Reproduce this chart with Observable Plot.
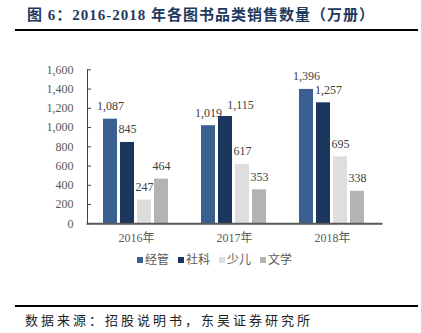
<!DOCTYPE html>
<html><head><meta charset="utf-8">
<script src="https://cdn.jsdelivr.net/npm/d3@7"></script>
<script src="https://cdn.jsdelivr.net/npm/@observablehq/plot@0.6"></script>
<style>
body{margin:0;background:#fff;width:421px;height:333px;position:relative;overflow:hidden;font-family:"Liberation Serif","Noto Sans CJK SC",serif}
#title{position:absolute;left:27px;top:6px;font-size:15px;font-weight:bold;color:#1f3a60;white-space:nowrap;line-height:18px;letter-spacing:1px}
.rule{position:absolute;left:15px;width:403px;height:0;border-top:2px solid #000}
#chart{position:absolute;left:0;top:40px}
#legend{position:absolute;top:252px;left:137px;font-size:12px;color:#595959;display:flex;line-height:16px;white-space:nowrap}
#legend .item{display:flex;align-items:center;margin-right:9px}
#legend .sw{width:6px;height:6px;margin-right:2px}
#source{position:absolute;left:25px;top:311px;font-size:13px;letter-spacing:3px;color:#222;white-space:nowrap;line-height:18px;font-family:"Noto Sans CJK SC",sans-serif}
</style></head>
<body>
<div id="title">图 6：2016-2018 年各图书品类销售数量（万册）</div>
<div class="rule" style="top:29px"></div>
<div id="chart"></div>
<div id="legend"></div>
<div class="rule" style="top:305px"></div>
<div id="source">数据来源：招股说明书，东吴证券研究所</div>
<script>
const years = ["2016年", "2017年", "2018年"];
const categories = ["经管", "社科", "少儿", "文学"];
const jingguan = [1087, 1019, 1396];
const sheke = [845, 1115, 1257];
const shaoer = [247, 617, 695];
const wenxue = [464, 353, 338];
const colors = ["#3a5f91", "#1b365d", "#dedede", "#b3b3b3"];
const yTicks = [0, 200, 400, 600, 800, 1000, 1200, 1400, 1600];

const series = [jingguan, sheke, shaoer, wenxue];
const data = [];
years.forEach((y, i) => categories.forEach((c, j) => data.push({year: y, cat: c, value: series[j][i]})));
const fmt = d3.format(",");

// labels nudged sideways in the reference to avoid overlapping neighbours
const isNudged1 = d => d.cat === "社科" && d.year === "2017年";
const isNudged2 = d => d.cat === "社科" && d.year === "2018年";
const labelOpts = {fx: "year", x: "cat", y: "value", text: d => fmt(d.value), dy: -13, fill: "#404040"};

const chart = Plot.plot({
  width: 421, height: 210,
  marginTop: 29.3, marginBottom: 26.7, marginLeft: 86, marginRight: 39,
  style: {fontFamily: "Liberation Serif, Noto Sans CJK SC, serif", fontSize: "12px", background: "transparent", overflow: "visible"},
  fx: {domain: years, padding: 0, label: null},
  x: {domain: categories, paddingInner: 0.167, paddingOuter: 0.815, axis: null},
  y: {domain: [0, 1600], label: null},
  color: {domain: categories, range: colors},
  marks: [
    Plot.barY(data, {fx: "year", x: "cat", y: "value", fill: "cat"}),
    Plot.text(data, {...labelOpts, filter: d => !isNudged1(d) && !isNudged2(d)}),
    Plot.text(data, {...labelOpts, filter: isNudged1, dx: 15, dy: -11}),
    Plot.text(data, {...labelOpts, filter: isNudged2, dx: 5}),
    Plot.axisY(yTicks, {tickSize: 4, dx: 4, tickPadding: 14, tickFormat: fmt, stroke: "#404040", fill: "#595959", label: null}),
    Plot.axisFx({anchor: "bottom", tickSize: 0, tickPadding: 10, label: null, fill: "#595959"}),
    Plot.frame({anchor: "left", facet: "super", stroke: "#404040"}),
    Plot.frame({anchor: "bottom", facet: "super", stroke: "#595959", strokeWidth: 2})
  ]
});
document.getElementById("chart").appendChild(chart);

const legend = document.getElementById("legend");
categories.forEach((c, i) => {
  const it = document.createElement("div");
  it.className = "item";
  it.innerHTML = `<span class="sw" style="background:${colors[i]}"></span><span>${c}</span>`;
  legend.appendChild(it);
});
</script>
</body></html>
